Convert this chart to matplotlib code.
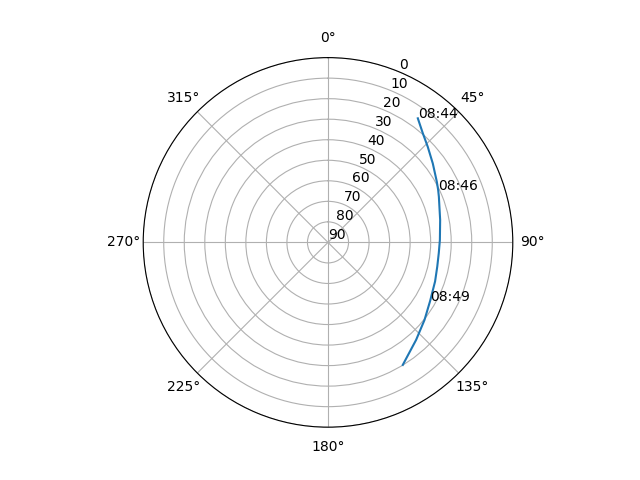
import numpy as np
import matplotlib
matplotlib.use("Agg")
import matplotlib.pyplot as plt

# satellite pass track (azimuth in degrees, elevation in degrees)
azimuth = [35.9, 41.0, 46.2, 53.0, 60.8, 64.6, 67.6, 78.7, 88.8, 95.5, 102.5, 110.0, 119.7, 128.8, 137.9, 148.6]
elevation = [15.4, 19.6, 22.7, 26.1, 29.3, 30.6, 31.6, 34.3, 35.5, 35.8, 35.5, 34.5, 32.7, 29.7, 26.0, 20.1]

# time labels
label_times = ["08:44", "08:46", "08:49"]
label_az = [35.9, 64.6, 119.7]
label_el = [15.4, 30.6, 32.7]

r_ticks = list(range(0, 91, 10))

fig = plt.figure(figsize=(6.4, 4.8), dpi=100)
ax = fig.add_subplot(111, projection="polar")
ax.set_theta_zero_location("N")
ax.set_theta_direction(-1)

ax.plot(np.radians(azimuth), elevation, color="C0")
for t, a, e in zip(label_times, label_az, label_el):
    ax.text(np.radians(a), e, t)

ax.set_rlim(90, 0)
ax.set_rticks(r_ticks)

fig.savefig("out.png", dpi=100)
